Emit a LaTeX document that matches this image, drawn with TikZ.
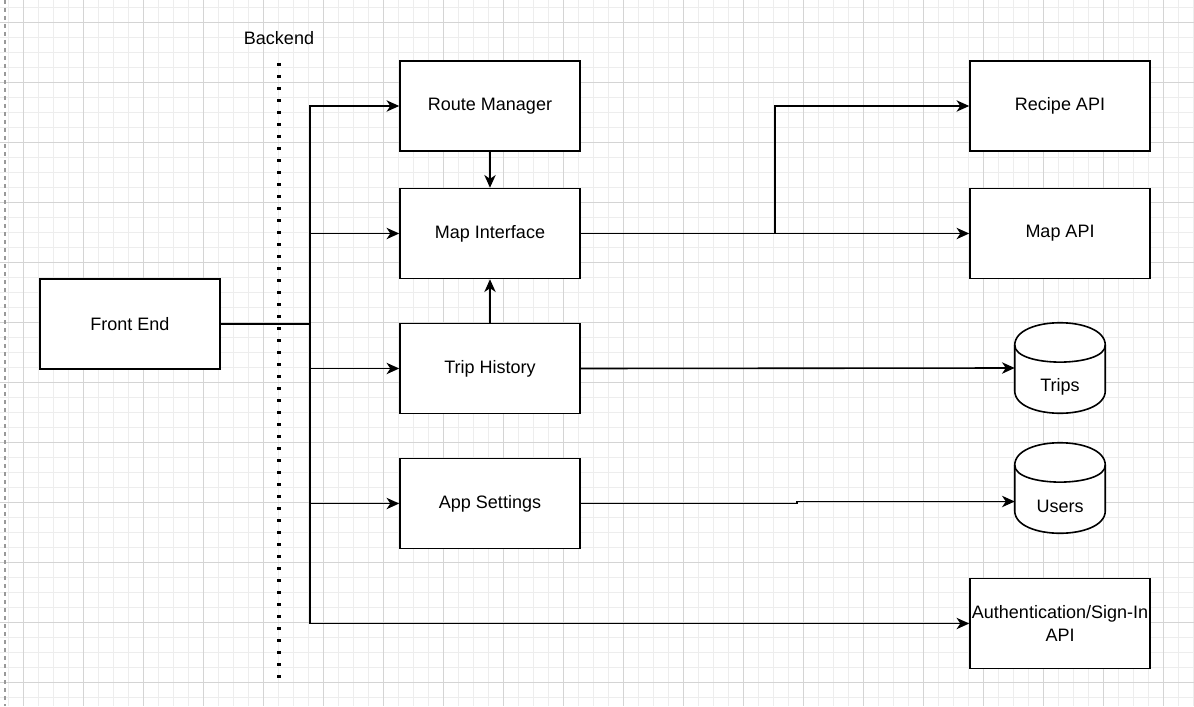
\documentclass[tikz,border=0pt]{standalone}
\usepackage{fontspec}
\setmainfont{Liberation Sans}
\usetikzlibrary{arrows.meta,calc}
\tikzset{
  box/.style={draw=black, line width=1.2pt, fill=white, minimum width=135pt, minimum height=67.5pt, inner sep=0pt, align=center, font=\fontsize{13.5}{17}\selectfont},
  cylbox/.style={minimum width=67.5pt, minimum height=67.5pt, inner sep=0pt},
  lbl/.style={inner sep=0pt, font=\fontsize{13.5}{17}\selectfont},
  conn/.style={draw=black, line width=1.2pt},
  arr/.style={conn, -{Stealth[length=9.5pt,width=8.5pt,inset=2.8pt]}},
  dotline/.style={draw=black, line width=2.3pt, dash pattern=on 2.3pt off 6.7pt},
  minorgrid/.style={draw=black!7, line width=0.6pt},
  majorgrid/.style={draw=black!17, line width=0.6pt},
}
\newcommand\mycyl[1]{%
  \draw[line width=1.2pt, fill=white]
    ($(#1.north west)+(0,22.5)$) .. controls ($(#1.north west)+(0,-7.5)$) and ($(#1.north east)+(0,-7.5)$) .. ($(#1.north east)+(0,22.5)$)
    -- ($(#1.south east)+(0,-22.5)$) .. controls ($(#1.south east)+(0,7.5)$) and ($(#1.south west)+(0,7.5)$) .. ($(#1.south west)+(0,-22.5)$) -- cycle;
  \draw[line width=1.2pt]
    ($(#1.north west)+(0,22.5)$) .. controls ($(#1.north west)+(0,45)$) and ($(#1.north east)+(0,45)$) .. ($(#1.north east)+(0,22.5)$);
}
\begin{document}
\begin{tikzpicture}[x=0.75pt,y=-0.75pt]
\useasboundingbox (0,0) rectangle (1194,706);
\fill[white] (0,0) rectangle (1194,706);
% grid
\foreach \x in {8,23,...,1194} \draw[minorgrid] (\x,0) -- (\x,706);
\foreach \y in {7,22,...,706} \draw[minorgrid] (0,\y) -- (1194,\y);
\foreach \x in {23,83,...,1194} \draw[majorgrid] (\x,0) -- (\x,706);
\foreach \y in {22,82,...,706} \draw[majorgrid] (0,\y) -- (1194,\y);
\draw[draw=black!40, line width=0.8pt, dash pattern=on 3pt off 3pt] (5,0) -- (5,706);

% backend separator
\node[lbl] (backend) at (279,38) {Backend};
\coordinate (dtop) at (279,63);
\coordinate (dbot) at (279,678);
\draw[dotline] (dtop) -- (dbot);

% nodes
\node[box] (fe) at (130,324) {Front End};
\node[box] (route) at (490,106) {Route Manager};
\node[box] (map) at (490,233.5) {Map Interface};
\node[box] (trip) at (490,368.5) {Trip History};
\node[box] (app) at (490,503.5) {App Settings};
\node[box] (recipe) at (1060,106) {Recipe API};
\node[box] (mapapi) at (1060,233.5) {Map API};
\node[box] (auth) at (1060,623.5) {Authentication/Sign-In\\API};

\node[cylbox] (trips) at (1060,368) {};
\mycyl{trips}
\node[lbl] (tripstext) at (1060,387) {Trips};
\node[cylbox] (users) at (1060,488) {};
\mycyl{users}
\node[lbl] (userstext) at (1060,506) {Users};

% connectors
\coordinate (j) at (310,324);
\draw[conn] (fe.east) -- (j);
\draw[arr] (j) |- (route.west);
\draw[arr] (j) |- (map.west);
\draw[arr] (j) |- (trip.west);
\draw[arr] (j) |- (app.west);
\draw[arr] (j) |- (auth.west);

\draw[arr] (route.south) -- (map.north);
\draw[arr] (trip.north) -- (map.south);

\coordinate (bend) at (775,233.5);
\draw[arr] (map.east) -- (bend) |- (recipe.west);
\draw[arr] (map.east) -- (mapapi.west);

\draw[arr] (trip.east) -- (trips.west);

\coordinate (jog) at (797,501.5);
\draw[arr] (app.east) -| (jog) -- (jog -| users.west);
\end{tikzpicture}
\end{document}
